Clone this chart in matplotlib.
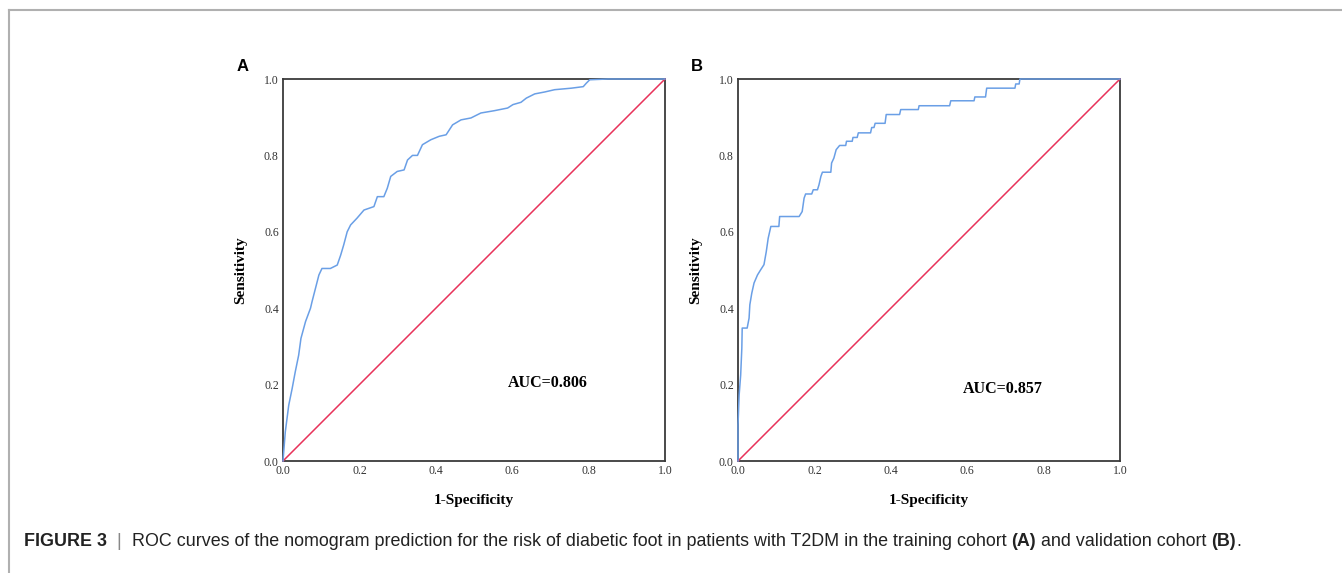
import matplotlib.pyplot as plt
from matplotlib.lines import Line2D

# ROC curve, training cohort (A)
fpr_a = [0.0, 0.006, 0.015, 0.024, 0.032, 0.041, 0.047, 0.059, 0.072, 0.076, 0.085, 0.094, 0.102,
         0.124, 0.142, 0.151, 0.159, 0.168, 0.177, 0.194, 0.212, 0.238, 0.247, 0.264, 0.273, 0.282,
         0.299, 0.317, 0.326, 0.339, 0.352, 0.365, 0.387, 0.409, 0.427, 0.444, 0.466, 0.492, 0.518,
         0.553, 0.588, 0.602, 0.623, 0.637, 0.659, 0.685, 0.711, 0.755, 0.786, 0.794, 0.803, 0.851, 1.0]
tpr_a = [0.0, 0.076, 0.146, 0.19, 0.233, 0.277, 0.321, 0.365, 0.40, 0.417, 0.452, 0.487, 0.504,
         0.504, 0.513, 0.539, 0.566, 0.60, 0.618, 0.636, 0.657, 0.666, 0.692, 0.692, 0.714, 0.745,
         0.758, 0.762, 0.788, 0.80, 0.80, 0.828, 0.841, 0.85, 0.854, 0.88, 0.893, 0.898, 0.911,
         0.917, 0.924, 0.933, 0.939, 0.95, 0.961, 0.966, 0.972, 0.976, 0.98, 0.989, 0.998, 1.0, 1.0]

# ROC curve, validation cohort (B)
fpr_b = [0.0, 0.0, 0.003, 0.007, 0.01, 0.011, 0.024, 0.029, 0.031, 0.036, 0.042, 0.051, 0.059,
         0.068, 0.074, 0.079, 0.086, 0.107, 0.109, 0.16, 0.168, 0.173, 0.177, 0.193, 0.197, 0.208,
         0.212, 0.217, 0.221, 0.243, 0.245, 0.251, 0.257, 0.266, 0.282, 0.284, 0.299, 0.301, 0.312,
         0.315, 0.347, 0.35, 0.356, 0.359, 0.385, 0.388, 0.423, 0.426, 0.472, 0.474, 0.554, 0.557,
         0.618, 0.62, 0.648, 0.651, 0.725, 0.727, 0.736, 0.738, 1.0]
tpr_b = [0.0, 0.094, 0.173, 0.225, 0.295, 0.348, 0.348, 0.374, 0.409, 0.439, 0.466, 0.487, 0.50,
         0.514, 0.548, 0.583, 0.614, 0.614, 0.64, 0.64, 0.653, 0.688, 0.699, 0.699, 0.71, 0.71,
         0.723, 0.745, 0.756, 0.756, 0.78, 0.793, 0.815, 0.826, 0.826, 0.837, 0.837, 0.847, 0.847,
         0.859, 0.859, 0.873, 0.873, 0.884, 0.884, 0.907, 0.907, 0.92, 0.92, 0.93, 0.93, 0.943,
         0.943, 0.953, 0.953, 0.976, 0.976, 0.987, 0.987, 1.0, 1.0]

panels = ['A', 'B']
aucs = ['AUC=0.806', 'AUC=0.857']
auc_pos = [(0.588, 0.203), (0.588, 0.188)]
ticks = [0.0, 0.2, 0.4, 0.6, 0.8, 1.0]
tick_labels = ['0.0', '0.2', '0.4', '0.6', '0.8', '1.0']

BLUE = '#6a9fe6'
RED = '#e8325a'
SERIF = 'Liberation Serif'

fig = plt.figure(figsize=(13.42, 5.73), dpi=100)

# outer frame lines (top and left) of the figure page
fig.add_artist(Line2D([9 / 1342, 1.0], [1 - 10 / 573, 1 - 10 / 573], color='#b0b0b0', lw=1.5))
fig.add_artist(Line2D([9 / 1342, 9 / 1342], [0.0, 1 - 10 / 573], color='#b0b0b0', lw=1.5))

lefts = [283 / 1342, 738 / 1342]
curves = [(fpr_a, tpr_a), (fpr_b, tpr_b)]
for i in range(2):
    ax = fig.add_axes([lefts[i], 112 / 573, 382 / 1342, 382 / 573])
    fx, ty = curves[i]
    ax.plot([0, 1], [0, 1], color=RED, lw=1.1, zorder=3, clip_on=False)
    ax.plot(fx, ty, color=BLUE, lw=1.1, zorder=3, clip_on=False)
    ax.set_xlim(0, 1)
    ax.set_ylim(0, 1)
    ax.set_xticks(ticks)
    ax.set_yticks(ticks)
    ax.set_xticklabels(tick_labels, fontfamily=SERIF, fontsize=8.5, color='#333333')
    ax.set_yticklabels(tick_labels, fontfamily=SERIF, fontsize=8.5, color='#333333')
    ax.tick_params(length=0, pad=3)
    for s in ax.spines.values():
        s.set_color('#3a3a3a')
        s.set_linewidth(1.3)
    ax.set_xlabel('1-Specificity', fontfamily=SERIF, fontweight='bold', fontsize=11, labelpad=12)
    ax.set_ylabel('Sensitivity', fontfamily=SERIF, fontweight='bold', fontsize=11, labelpad=12)
    ax.text(auc_pos[i][0], auc_pos[i][1], aucs[i], fontfamily=SERIF, fontweight='bold',
            fontsize=11.5, va='center', ha='left', transform=ax.transAxes)
    ax.text(-0.107, 1.034, panels[i], fontfamily='Liberation Sans', fontweight='bold',
            fontsize=12, ha='center', va='center', transform=ax.transAxes)

# caption with mixed weights, drawn piece by piece
pieces = [('FIGURE 3', 'bold', '#222222'), ('  |  ', 'normal', '#888888'),
          ('ROC curves of the nomogram prediction for the risk of diabetic foot in patients with T2DM in the training cohort ', 'normal', '#222222'),
          ('(A)', 'bold', '#222222'), (' and validation cohort ', 'normal', '#222222'),
          ('(B)', 'bold', '#222222'), ('.', 'normal', '#222222')]
renderer = fig.canvas.get_renderer()
x = 24
for txt, wt, col in pieces:
    t = fig.text(x / 1342, 1 - 546 / 573, txt, fontfamily='Liberation Sans', fontweight=wt,
                 fontsize=12.9, color=col, va='baseline', ha='left')
    bb = t.get_window_extent(renderer=renderer)
    x += bb.width

fig.savefig('out.png', dpi=100)
